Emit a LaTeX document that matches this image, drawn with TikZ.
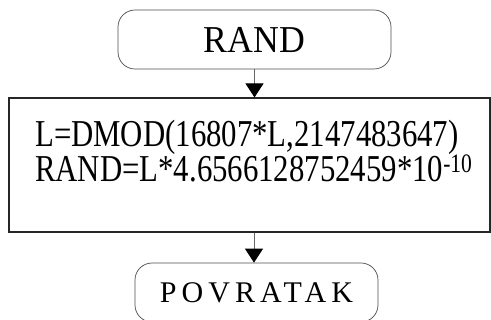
\documentclass[tikz,border=0pt]{standalone}
\usepackage{fontspec}
\setmainfont{Liberation Serif}
\newfontfamily\termfont[FakeStretch=0.94]{Liberation Serif}
\newfontfamily\codefont[FakeStretch=0.81]{Liberation Serif}
\newfontfamily\spacedfont[LetterSpace=17]{Liberation Serif}
\usetikzlibrary{arrows.meta,positioning}

\begin{document}
\begin{tikzpicture}[x=1pt,y=-1pt,
    terminal/.style={draw=black!70,line width=0.7pt,rounded corners=17pt,
      minimum width=#1,minimum height=59pt,inner sep=0pt},
    procbox/.style={draw=black!85,line width=1.1pt,minimum width=481pt,
      minimum height=134pt,inner sep=0pt},
    flow/.style={draw=black!60,line width=0.9pt,
      -{Triangle[length=14pt,width=18pt,fill=black,color=black]}}]
  \useasboundingbox (0,0) rectangle (491,320);

  \node[terminal=273pt] (start) at (254.5,39.5)
    {\termfont\fontsize{38}{40}\selectfont RAND};
  \node[procbox] (proc) at (249.5,165) {};
  \node[anchor=base west,align=left,inner sep=0pt] (code) at (35,182)
    {\codefont\fontsize{38}{35}\selectfont L=DMOD(16807*L,2147483647)\\
     \codefont\fontsize{38}{35}\selectfont RAND=L*4.6566128752459*10\textsuperscript{-10}};
  \node[terminal=243pt] (ret) at (256.5,292.5)
    {\spacedfont\fontsize{30}{32}\selectfont POVRATAK};

  \draw[flow] (start.south) -- (start.south |- proc.north);
  \draw[flow] (proc.south -| 254,0) -- (254,0 |- ret.north);
\end{tikzpicture}
\end{document}
